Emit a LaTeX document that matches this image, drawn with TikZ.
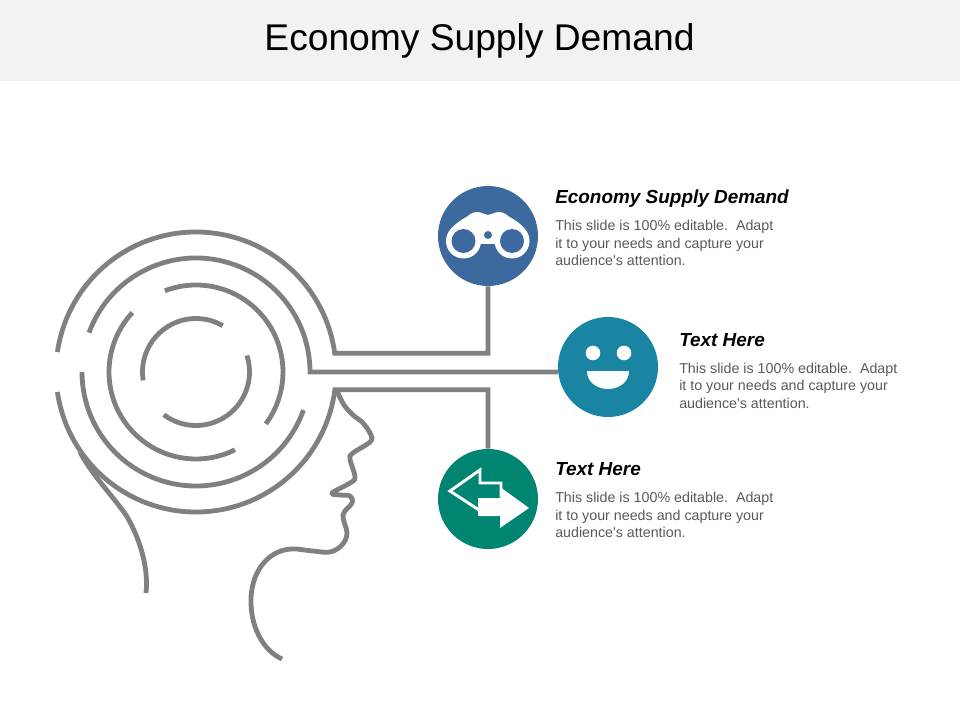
\documentclass[tikz,border=0pt]{standalone}
\usepackage{fontspec}
\setmainfont{Liberation Sans}
\definecolor{linegray}{HTML}{808080}
\definecolor{bodygray}{HTML}{595959}
\definecolor{band}{HTML}{F2F2F2}
\definecolor{cblue}{HTML}{3C6A9E}
\definecolor{cteal}{HTML}{1A84A3}
\definecolor{cgreen}{HTML}{008573}
\tikzset{
  maze/.style={draw=linegray,line width=3.6pt,line join=miter},
  badge/.style={circle,minimum size=75pt,inner sep=0pt,fill=#1},
  heading/.style={anchor=base west,inner sep=0pt,font=\fontsize{14.2}{16}\selectfont\bfseries\itshape},
  bodytext/.style={anchor=north west,inner sep=0pt,align=left,text=bodygray,font=\fontsize{10.7}{13.1}\selectfont},
}
\begin{document}
\begin{tikzpicture}[x=0.75pt,y=-0.75pt]
\useasboundingbox (0,0) rectangle (960,720);
\fill[band] (0,0) rectangle (960,81);
\node[inner sep=0pt,anchor=base,font=\fontsize{27.9}{32}\selectfont] (title) at (479.5,51) {Economy Supply Demand};

\node[badge=cblue] (c1) at (488,236) {};
\node[badge=cteal] (c2) at (608,367) {};
\node[badge=cgreen] (c3) at (488,499) {};

\coordinate (m) at (196,372);
\coordinate (j1) at (488,353.24);
\coordinate (j3) at (488,389.8);
\coordinate (j2) at (558,372);

% outer ring + connectors
\draw[maze] (m) ++(188.2:140) arc[start angle=188.2,end angle=352.3,radius=140] -- (j1) -- (c1.south);
\draw[maze] (m) ++(171.8:140) arc[start angle=171.8,end angle=7.3,radius=140] -- (j3) -- (c3.north);
% second ring
\draw[maze] (m) ++(200.2:114) arc[start angle=200.2,end angle=360,radius=114] -- (j2);
\draw[maze] (m) ++(180:114) arc[start angle=180,end angle=19.5,radius=114];
% third ring
\draw[maze] (m) ++(223:87) arc[start angle=223,end angle=63.4,radius=87];
\draw[maze] (m) ++(249:87) arc[start angle=249,end angle=396.6,radius=87];
% inner ring
\draw[maze] (m) ++(171:53.5) arc[start angle=171,end angle=300,radius=53.5];
\draw[maze] (m) ++(-18:53.5) arc[start angle=-18,end angle=127,radius=53.5];

% face
\coordinate (f0) at (337,391);
\coordinate (f1) at (282,659);
\draw[maze,line join=round] plot[smooth,tension=0.6] coordinates {(f0) (344,405) (353,415) (363,423) (371,435) (370,442) (353,453) (350,459) (355,477) (350,483) (332,493) (340,495) (350,496) (352,503) (343,515) (347,533) (342,545) (330,552) (313,551) (297,549)} .. controls (270,547) and (252,570) .. (251,598) .. controls (250,625) and (262,650) .. (f1);
% back of head
\coordinate (b0) at (80,452);
\coordinate (b1) at (146,593);
\draw[maze] (b0) .. controls (92,475) and (112,495) .. (126,515) .. controls (138,535) and (149,565) .. (b1);

% binoculars
\fill[white] (447,241) .. controls (447,232) and (453,225) .. (463,219) .. controls (469,216) and (471,212) .. (477,212) .. controls (482,212) and (484,215) .. (488,215) .. controls (492,215) and (494,212) .. (499,212) .. controls (505,212) and (507,216) .. (513,219) .. controls (523,225) and (529,232) .. (529,241) -- (512,250) -- (497,244) -- (479,244) -- (463,250) -- cycle;
\fill[white] (463.5,241) circle[radius=17.5];
\fill[white] (512,241) circle[radius=17.5];
\fill[cblue] (463.5,241) circle[radius=12];
\fill[cblue] (512,241) circle[radius=12];
\fill[cblue] (488,235) circle[radius=4];

% smile
\fill[white] (593,353) circle[radius=7.3];
\fill[white] (624,353) circle[radius=7.3];
\fill[white] (587,371) -- (629,371) .. controls (629,382) and (619,389) .. (608,389) .. controls (597,389) and (587,382) .. (587,371) -- cycle;

% arrows
\draw[white,line width=2.2pt,line join=miter] (501,497) -- (501,483) -- (480,483) -- (480,470) -- (450,491) -- (479,510);
\fill[white] (529,508) -- (500,487) -- (500,498) -- (478,498) -- (478,516) -- (500,516) -- (500,528) -- cycle;

% texts
\node[heading] (h1) at (555,204) {Economy Supply Demand};
\node[bodytext] (b1t) at (555,220) {This slide is 100\% editable.\ \ Adapt\\it to your needs and capture your\\audience\textquotesingle s attention.};
\node[heading] (h2) at (679,346) {Text Here};
\node[bodytext] (b2t) at (679,362.5) {This slide is 100\% editable.\ \ Adapt\\it to your needs and capture your\\audience\textquotesingle s attention.};
\node[heading] (h3) at (555,475) {Text Here};
\node[bodytext] (b3t) at (555,492) {This slide is 100\% editable.\ \ Adapt\\it to your needs and capture your\\audience\textquotesingle s attention.};
\end{tikzpicture}
\end{document}
